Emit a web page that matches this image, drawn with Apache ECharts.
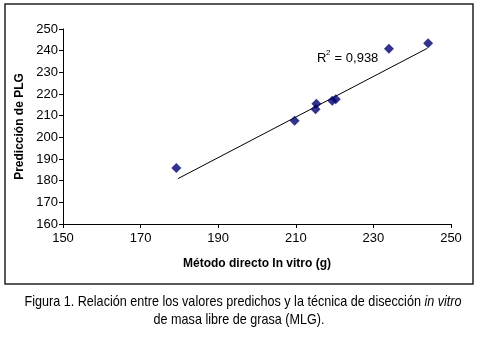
<!DOCTYPE html>
<html>
<head>
<meta charset="utf-8">
<script src="https://cdn.jsdelivr.net/npm/echarts@6/dist/echarts.min.js"></script>
<style>
  html, body { margin: 0; padding: 0; background: #fff; }
  #chart { width: 480px; height: 338px; }
</style>
</head>
<body>
<div id="chart"></div>
<script>
// measured points: x = método directo in vitro (g), y = predicción de PLG
var metodoDirecto = [179.2, 209.7, 215.1, 215.3, 219.4, 220.3, 234.0, 244.1];
var prediccionPLG = [185.8, 207.6, 213.0, 215.5, 216.9, 217.6, 240.9, 243.4];
// trendline ends as drawn in the figure
var trendX = [179.6, 243.9];
var trendY = [180.9, 241.1];
var xTicks = [150, 170, 190, 210, 230, 250];
var yTicks = [160, 170, 180, 190, 200, 210, 220, 230, 240, 250];
var r2Label = '0,938';

var points = metodoDirecto.map(function (x, i) { return [x, prediccionPLG[i]]; });
var trend = trendX.map(function (x, i) { return [x, trendY[i]]; });

var font = 'Arial, "Liberation Sans", sans-serif';
var capStyle = { fontFamily: font, fontSize: 15, fill: '#000' };
var chart = echarts.init(document.getElementById('chart'));
chart.setOption({
    animation: false,
    grid: { left: 63, right: 29, top: 29, bottom: 114 },
    xAxis: {
        type: 'value',
        min: xTicks[0],
        max: xTicks[xTicks.length - 1],
        interval: 20,
        name: 'Método directo In vitro (g)',
        nameLocation: 'middle',
        nameGap: 34,
        nameTextStyle: { fontFamily: font, fontSize: 12, fontWeight: 'bold', color: '#000' },
        axisLine: { lineStyle: { color: '#000', width: 1 } },
        axisTick: { length: 4, lineStyle: { color: '#000' } },
        axisLabel: { fontFamily: font, fontSize: 13, color: '#000', margin: 8 },
        splitLine: { show: false }
    },
    yAxis: {
        type: 'value',
        min: yTicks[0],
        max: yTicks[yTicks.length - 1],
        interval: 10,
        name: 'Predicción de PLG',
        nameLocation: 'middle',
        nameGap: 35,
        nameTextStyle: { fontFamily: font, fontSize: 12, fontWeight: 'bold', color: '#000' },
        axisLine: { show: true, lineStyle: { color: '#000', width: 1 } },
        axisTick: { show: true, length: 4, lineStyle: { color: '#000' } },
        axisLabel: { fontFamily: font, fontSize: 13, color: '#000', margin: 5 },
        splitLine: { show: false }
    },
    series: [
        {
            type: 'line',
            data: trend,
            symbol: 'none',
            lineStyle: { color: '#000', width: 1 },
            silent: true,
            z: 1
        },
        {
            type: 'scatter',
            data: points,
            symbol: 'diamond',
            symbolSize: [10, 10],
            itemStyle: { color: '#00006e' },
            z: 3
        }
    ],
    graphic: [
        {
            type: 'rect',
            shape: { x: 5, y: 4, width: 468, height: 280 },
            style: { fill: 'none', stroke: '#222', lineWidth: 1.5 },
            silent: true
        },
        {
            type: 'text',
            x: 317, y: 58,
            style: { text: 'R', fontFamily: font, fontSize: 13, fill: '#000', verticalAlign: 'middle' }
        },
        {
            type: 'text',
            x: 326, y: 53,
            style: { text: '2', fontFamily: font, fontSize: 8, fill: '#000', verticalAlign: 'middle' }
        },
        {
            type: 'text',
            x: 331, y: 58,
            style: { text: ' = ' + r2Label, fontFamily: font, fontSize: 13, fill: '#000', verticalAlign: 'middle' }
        },
        {
            type: 'text',
            x: 243, y: 302,
            scaleX: 0.84,
            style: {
                text: '{n|Figura 1. Relación entre los valores predichos y la técnica de disección }{i|in vitro}',
                align: 'center',
                verticalAlign: 'middle',
                rich: {
                    n: capStyle,
                    i: { fontFamily: font, fontSize: 15, fontStyle: 'italic', fill: '#000' }
                }
            }
        },
        {
            type: 'text',
            x: 239, y: 320,
            scaleX: 0.84,
            style: {
                text: 'de masa libre de grasa (MLG).',
                align: 'center',
                verticalAlign: 'middle',
                fontFamily: font, fontSize: 15, fill: '#000'
            }
        }
    ]
});
</script>
</body>
</html>
